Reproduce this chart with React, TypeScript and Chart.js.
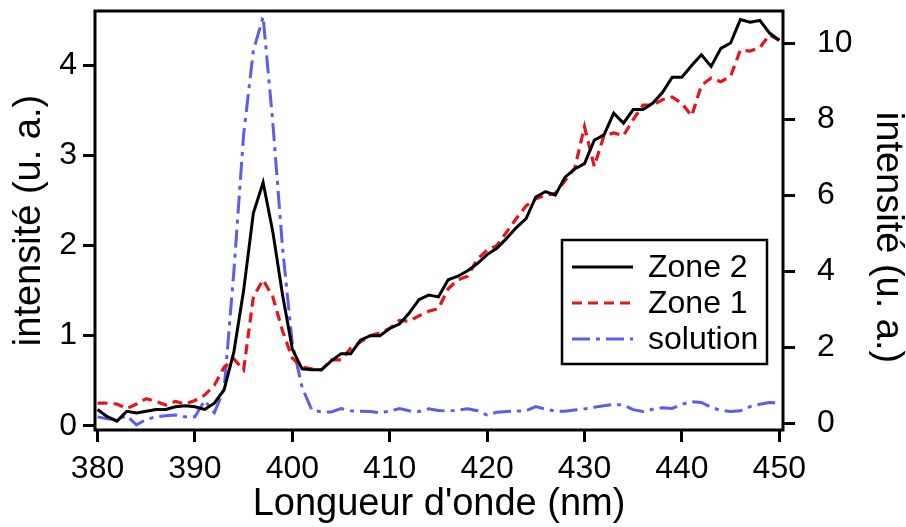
import React, { useEffect, useRef } from "react";
import { Chart, registerables } from "chart.js";

Chart.register(...registerables);

const wavelengths = [
  380, 381, 382, 383, 384, 385, 386, 387, 388, 389,
  390, 391, 392, 393, 394, 395, 396, 397, 398, 399,
  400, 401, 402, 403, 404, 405, 406, 407, 408, 409,
  410, 411, 412, 413, 414, 415, 416, 417, 418, 419,
  420, 421, 422, 423, 424, 425, 426, 427, 428, 429,
  430, 431, 432, 433, 434, 435, 436, 437, 438, 439,
  440, 441, 442, 443, 444, 445, 446, 447, 448, 449, 450,
];

const zone2 = [
  0.18, 0.1, 0.05, 0.16, 0.14, 0.16, 0.18, 0.18, 0.21, 0.22,
  0.21, 0.18, 0.25, 0.4, 0.82, 1.5, 2.36, 2.7, 2.15, 1.45,
  0.85, 0.63, 0.62, 0.62, 0.72, 0.8, 0.8, 0.95, 1.0, 1.0,
  1.08, 1.13, 1.25, 1.4, 1.45, 1.43, 1.62, 1.66, 1.72, 1.8,
  1.9, 1.97, 2.08, 2.2, 2.3, 2.54, 2.6, 2.56, 2.76, 2.85,
  2.91, 3.17, 3.23, 3.47, 3.36, 3.51, 3.51, 3.58, 3.7, 3.87,
  3.87, 4.0, 4.12, 3.99, 4.19, 4.25, 4.51, 4.48, 4.5, 4.36, 4.28,
];

const zone1 = [
  0.25, 0.25, 0.24, 0.19, 0.24, 0.3, 0.27, 0.23, 0.27, 0.24,
  0.28, 0.34, 0.45, 0.65, 0.74, 0.62, 1.43, 1.62, 1.43, 1.05,
  0.75, 0.65, 0.63, 0.62, 0.73, 0.73, 0.86, 0.93, 1.0, 1.03,
  1.08, 1.17, 1.16, 1.22, 1.27, 1.3, 1.52, 1.62, 1.66, 1.85,
  1.95, 2.0, 2.15, 2.3, 2.44, 2.52, 2.56, 2.58, 2.72, 2.86,
  3.32, 2.88, 3.22, 3.25, 3.22, 3.4, 3.56, 3.56, 3.62, 3.65,
  3.58, 3.44, 3.78, 3.86, 3.82, 3.88, 4.17, 4.16, 4.2, 4.34, 4.28,
];

const solution = [
  0.17, 0.12, 0.1, 0.2, -0.04, 0.1, 0.17, 0.2, 0.22, 0.17,
  0.17, 0.6, 0.28, 0.9, 4.0, 7.6, 9.8, 10.7, 7.9, 4.6,
  2.1, 0.95, 0.35, 0.3, 0.3, 0.39, 0.33, 0.32, 0.31, 0.28,
  0.32, 0.39, 0.33, 0.31, 0.38, 0.34, 0.32, 0.35, 0.38, 0.33,
  0.22, 0.29, 0.31, 0.32, 0.33, 0.44, 0.37, 0.32, 0.32, 0.35,
  0.38, 0.42, 0.46, 0.5, 0.48, 0.36, 0.31, 0.37, 0.41, 0.39,
  0.5, 0.57, 0.55, 0.42, 0.34, 0.31, 0.33, 0.44, 0.5, 0.55, 0.53,
];

const xTicks = [380, 390, 400, 410, 420, 430, 440, 450];
const leftTicks = [0, 1, 2, 3, 4];
const rightTicks = [0, 2, 4, 6, 8, 10];
const seriesLabels = ["Zone 2", "Zone 1", "solution"];
const xTitle = "Longueur d'onde (nm)";
const yTitle = "intensité (u. a.)";

const FONT = "'Liberation Sans', Arial, Helvetica, sans-serif";
const BLACK = "#000000";
const RED = "#e8141c";
const BLUE = "#5c5cee";

const toPoints = (ys: number[]) => wavelengths.map((x, i) => ({ x, y: ys[i] }));

const framePlugin = {
  id: "frameAndLegend",
  afterDraw(chart: any) {
    const { ctx, chartArea } = chart;
    ctx.save();
    ctx.strokeStyle = BLACK;
    ctx.lineWidth = 3;
    ctx.setLineDash([]);
    ctx.strokeRect(
      chartArea.left,
      chartArea.top,
      chartArea.right - chartArea.left,
      chartArea.bottom - chartArea.top
    );
    // right-hand axis title (slightly below centre, as in the reference)
    ctx.save();
    ctx.translate(chart.width - 19, (chartArea.top + chartArea.bottom) / 2 + 17);
    ctx.rotate(Math.PI / 2);
    ctx.fillStyle = BLACK;
    ctx.font = `38px ${FONT}`;
    ctx.textAlign = "center";
    ctx.textBaseline = "middle";
    ctx.fillText(yTitle, 0, 0);
    ctx.restore();
    // legend box
    const bx = chartArea.right - 221;
    const by = chartArea.bottom - 190;
    const bw = 205;
    const bh = 124;
    ctx.fillStyle = "#ffffff";
    ctx.fillRect(bx, by, bw, bh);
    ctx.lineWidth = 2.5;
    ctx.strokeStyle = BLACK;
    ctx.strokeRect(bx, by, bw, bh);
    const rowY = [by + 27, by + 63, by + 99];
    chart.data.datasets.forEach((ds: any, i: number) => {
      const y = rowY[i];
      ctx.beginPath();
      ctx.strokeStyle = ds.borderColor;
      ctx.lineWidth = ds.borderWidth;
      ctx.setLineDash(ds.borderDash || []);
      ctx.moveTo(bx + 10, y);
      ctx.lineTo(bx + 71, y);
      ctx.stroke();
      ctx.setLineDash([]);
      ctx.fillStyle = BLACK;
      ctx.font = `32px ${FONT}`;
      ctx.textAlign = "left";
      ctx.textBaseline = "middle";
      ctx.fillText(ds.label, bx + 86, y + 1);
    });
    ctx.restore();
  },
};

export default function App() {
  const canvasRef = useRef<HTMLCanvasElement | null>(null);

  useEffect(() => {
    const canvas = canvasRef.current;
    if (!canvas) return;
    const tickFont = { family: FONT, size: 32 };
    const titleFont = { family: FONT, size: 38, lineHeight: 1 };
    const gridOpts = {
      display: true,
      drawOnChartArea: false,
      drawTicks: true,
      tickLength: 12,
      lineWidth: 3,
      color: BLACK,
    };
    const zeroPad = (s: any) => {
      s.paddingTop = 0;
      s.paddingBottom = 0;
      s.paddingLeft = 0;
      s.paddingRight = 0;
    };
    const chart = new Chart(canvas, {
      type: "line",
      data: {
        datasets: [
          {
            label: seriesLabels[0],
            data: toPoints(zone2),
            borderColor: BLACK,
            borderWidth: 3,
            pointRadius: 0,
            tension: 0,
            yAxisID: "yL",
          },
          {
            label: seriesLabels[1],
            data: toPoints(zone1),
            borderColor: RED,
            borderWidth: 3.2,
            borderDash: [10, 6],
            pointRadius: 0,
            tension: 0,
            yAxisID: "yL",
          },
          {
            label: seriesLabels[2],
            data: toPoints(solution),
            borderColor: BLUE,
            borderWidth: 3,
            borderDash: [18, 6, 4, 6],
            pointRadius: 0,
            tension: 0,
            yAxisID: "yR",
          },
        ],
      },
      options: {
        responsive: false,
        animation: false,
        layout: { padding: { top: 11, left: 0, right: 0, bottom: 0 } },
        plugins: {
          legend: { display: false },
          tooltip: { enabled: false },
        },
        scales: {
          x: {
            type: "linear",
            min: 379.74,
            max: 450.38,
            afterBuildTicks: (s: any) => {
              s.ticks = xTicks.map((v) => ({ value: v }));
            },
            afterFit: (s: any) => {
              s.height = 97;
              zeroPad(s);
            },
            grid: gridOpts,
            border: { display: false },
            ticks: {
              color: BLACK,
              font: tickFont,
              padding: 8,
              maxRotation: 0,
              autoSkip: false,
              callback: (v: any) => String(v),
            },
            title: {
              display: true,
              text: xTitle,
              color: BLACK,
              font: titleFont,
              padding: { top: 0, bottom: 3 },
            },
          },
          yL: {
            type: "linear",
            position: "left",
            min: -0.048,
            max: 4.605,
            afterBuildTicks: (s: any) => {
              s.ticks = leftTicks.map((v) => ({ value: v }));
            },
            afterFit: (s: any) => {
              s.width = 95;
              zeroPad(s);
            },
            grid: gridOpts,
            border: { display: false },
            ticks: {
              color: BLACK,
              font: tickFont,
              padding: 6,
              callback: (v: any) => String(v),
            },
            title: {
              display: true,
              text: yTitle,
              color: BLACK,
              font: titleFont,
              padding: { top: 11, bottom: 0 },
            },
          },
          yR: {
            type: "linear",
            position: "right",
            min: -0.176,
            max: 10.85,
            afterBuildTicks: (s: any) => {
              s.ticks = rightTicks.map((v) => ({ value: v }));
            },
            afterFit: (s: any) => {
              s.width = 123;
              zeroPad(s);
            },
            grid: gridOpts,
            border: { display: false },
            ticks: {
              color: BLACK,
              font: tickFont,
              padding: 22,
              callback: (v: any) => String(v),
            },
            title: { display: false },
          },
        },
      },
      plugins: [framePlugin],
    } as any);
    return () => chart.destroy();
  }, []);

  return (
    <div style={{ position: "fixed", left: 0, top: 0, width: 906, height: 527, background: "#fff" }}>
      <canvas ref={canvasRef} width={906} height={527} style={{ display: "block" }} />
    </div>
  );
}
